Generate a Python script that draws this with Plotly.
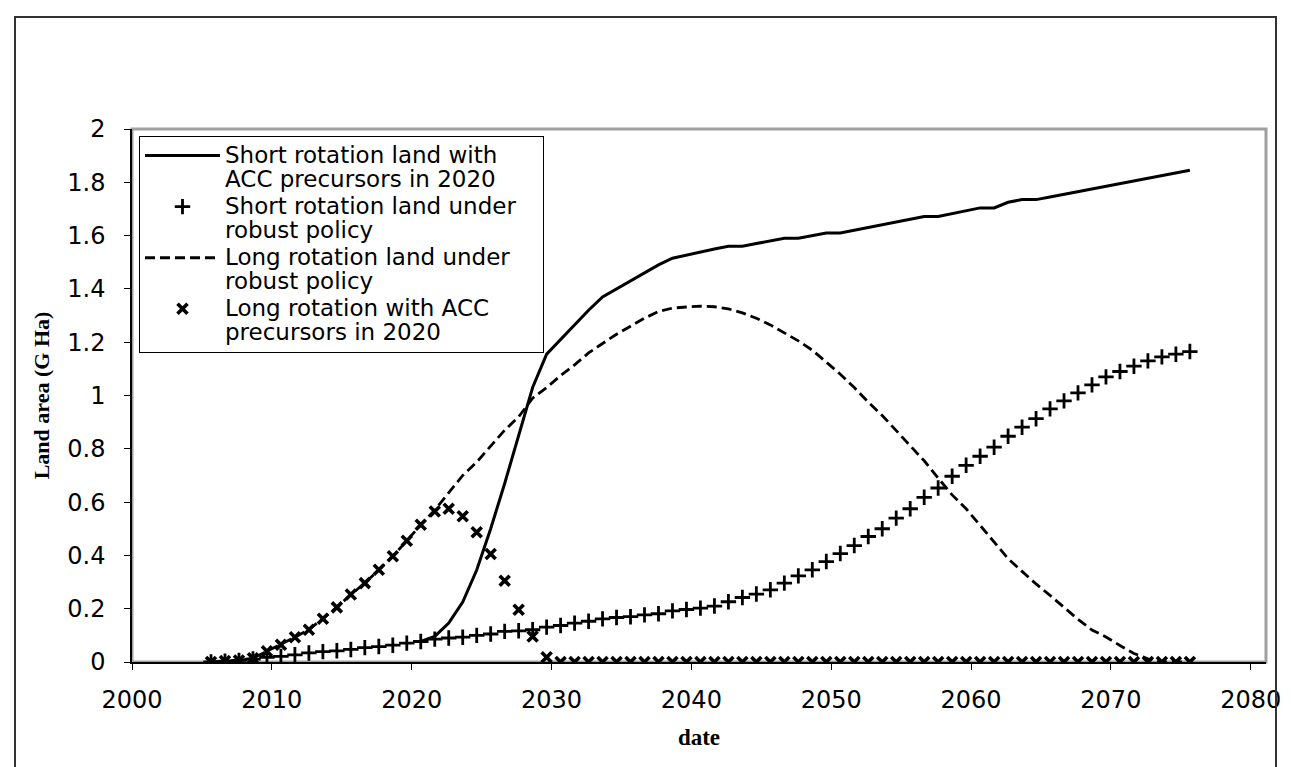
import plotly.graph_objects as go

years = list(range(2005, 2076))
date_offset = 0.65
dates = [y + date_offset for y in years]

short_acc = [None] * 15 + [
    0.077, 0.096, 0.146, 0.225, 0.345, 0.50, 0.67, 0.85, 1.03, 1.155,
    1.21, 1.265, 1.32, 1.37, 1.40, 1.43, 1.46, 1.49, 1.515, 1.527,
    1.538, 1.55, 1.56, 1.56, 1.57, 1.58, 1.59, 1.59, 1.60, 1.61,
    1.61, 1.62, 1.63, 1.64, 1.65, 1.66, 1.672, 1.672, 1.682, 1.693,
    1.704, 1.704, 1.725, 1.735, 1.735, 1.745, 1.755, 1.765, 1.775, 1.785,
    1.795, 1.805, 1.815, 1.825, 1.835, 1.845]

short_robust = [
    0.0, 0.003, 0.006, 0.011, 0.017, 0.021, 0.027, 0.034, 0.039, 0.042,
    0.047, 0.054, 0.058, 0.063, 0.071, 0.077, 0.086, 0.09, 0.093, 0.1,
    0.105, 0.115, 0.117, 0.121, 0.131, 0.137, 0.146, 0.153, 0.162, 0.167,
    0.170, 0.177, 0.181, 0.192, 0.197, 0.202, 0.210, 0.226, 0.242, 0.255,
    0.271, 0.296, 0.323, 0.346, 0.377, 0.407, 0.437, 0.471, 0.5, 0.54,
    0.575, 0.618, 0.653, 0.697, 0.738, 0.772, 0.806, 0.847, 0.881, 0.913,
    0.95, 0.98, 1.01, 1.04, 1.07, 1.09, 1.11, 1.13, 1.145, 1.155,
    1.165]

long_robust = [
    0.0, 0.004, 0.006, 0.014, 0.04, 0.065, 0.093, 0.121, 0.162, 0.205,
    0.253, 0.296, 0.346, 0.397, 0.455, 0.515, 0.57, 0.636, 0.70, 0.75,
    0.81, 0.87, 0.92, 0.99, 1.03, 1.075, 1.115, 1.16, 1.195, 1.23,
    1.26, 1.29, 1.315, 1.328, 1.332, 1.335, 1.333, 1.325, 1.31, 1.29,
    1.265, 1.235, 1.205, 1.17, 1.125, 1.08, 1.03, 0.975, 0.925, 0.868,
    0.81, 0.755, 0.69, 0.627, 0.575, 0.513, 0.449, 0.388, 0.34, 0.293,
    0.25, 0.205, 0.16, 0.12, 0.094, 0.062, 0.032, 0.012, 0.0, 0.0,
    0.0]

long_acc = [
    0.0, 0.004, 0.006, 0.014, 0.04, 0.065, 0.093, 0.121, 0.162, 0.205,
    0.253, 0.296, 0.346, 0.397, 0.455, 0.515, 0.565, 0.575, 0.547, 0.487,
    0.405, 0.305, 0.196, 0.096, 0.018] + [0.0] * 46

x_ticks = [2000, 2010, 2020, 2030, 2040, 2050, 2060, 2070, 2080]
y_ticks = [0, 0.2, 0.4, 0.6, 0.8, 1, 1.2, 1.4, 1.6, 1.8, 2]
y_tick_text = ["0", "0.2", "0.4", "0.6", "0.8", "1", "1.2", "1.4", "1.6", "1.8", "2"]

legend_lines = [
    ["Short rotation land with", "ACC precursors in 2020"],
    ["Short rotation land under\u00a0\u00a0\u00a0", "robust policy"],
    ["Long rotation land under", "robust policy"],
    ["Long rotation with ACC", "precursors in 2020"],
]
SPAN = '<span style="font-size:23px">{}</span>'
names = ["<br>".join(SPAN.format(t) for t in pair) for pair in legend_lines]

fig = go.Figure()
fig.add_trace(go.Scatter(x=dates, y=short_acc, mode="lines", name=names[0],
                         line=dict(color="black", width=3)))
fig.add_trace(go.Scatter(x=dates, y=short_robust, mode="markers", name=names[1],
                         marker=dict(symbol="cross-thin", size=11, color="black",
                                     line=dict(color="black", width=2.8))))
fig.add_trace(go.Scatter(x=dates, y=long_robust, mode="lines", name=names[2],
                         line=dict(color="black", width=2.8, dash="10px,5px")))
fig.add_trace(go.Scatter(x=dates, y=long_acc, mode="markers", name=names[3],
                         marker=dict(symbol="x-thin", size=10, color="black",
                                     line=dict(color="black", width=3.6))))

W, H = 1291, 767
L, R, T, B = 124, 1258, 121, 654
pw, ph = R - L, B - T

def px(xp):
    return (xp - L) / pw

def py(yp):
    return (B - yp) / ph

shapes = [
    dict(type="rect", xref="paper", yref="paper", x0=0, x1=1, y0=0, y1=1,
         line=dict(color="#a0a0a0", width=3), layer="below"),
    dict(type="rect", xref="paper", yref="paper", x0=px(7), x1=px(1268),
         y0=py(766), y1=py(9), line=dict(color="#333333", width=2)),
]

fig.update_layout(
    width=W, height=H,
    margin=dict(l=L, r=W - R, t=T, b=H - B, pad=0),
    paper_bgcolor="white", plot_bgcolor="white",
    showlegend=True,
    legend=dict(x=px(131), y=py(128), xanchor="left", yanchor="top",
                bordercolor="black", borderwidth=1, bgcolor="white",
                font=dict(family="DejaVu Sans", size=18.5, color="black"),
                itemwidth=75, tracegroupgap=0, valign="top",
                traceorder="normal"),
    shapes=shapes,
    xaxis=dict(range=[2000, 2000 + 80 * pw / 1118.7], tickvals=x_ticks,
               ticktext=[str(t) for t in x_ticks],
               showgrid=False, zeroline=False, showline=True,
               linecolor="black", linewidth=1.5, ticks="outside", ticklen=6,
               tickcolor="black", ticklabelstandoff=9,
               tickfont=dict(family="DejaVu Sans", size=24, color="black"),
               title=dict(text="<b>date</b>", standoff=16,
                          font=dict(family="Liberation Serif", size=23, color="black"))),
    yaxis=dict(range=[0, 2], tickvals=y_ticks, ticktext=y_tick_text,
               showgrid=False, zeroline=False, showline=True,
               linecolor="black", linewidth=1.5, ticks="outside", ticklen=6,
               tickcolor="black", ticklabelstandoff=14,
               tickfont=dict(family="DejaVu Sans", size=24, color="black"),
               title=dict(text="<b>Land area (G Ha)</b>", standoff=12,
                          font=dict(family="Liberation Serif", size=22, color="black"))),
)

fig.write_html("out.html")
